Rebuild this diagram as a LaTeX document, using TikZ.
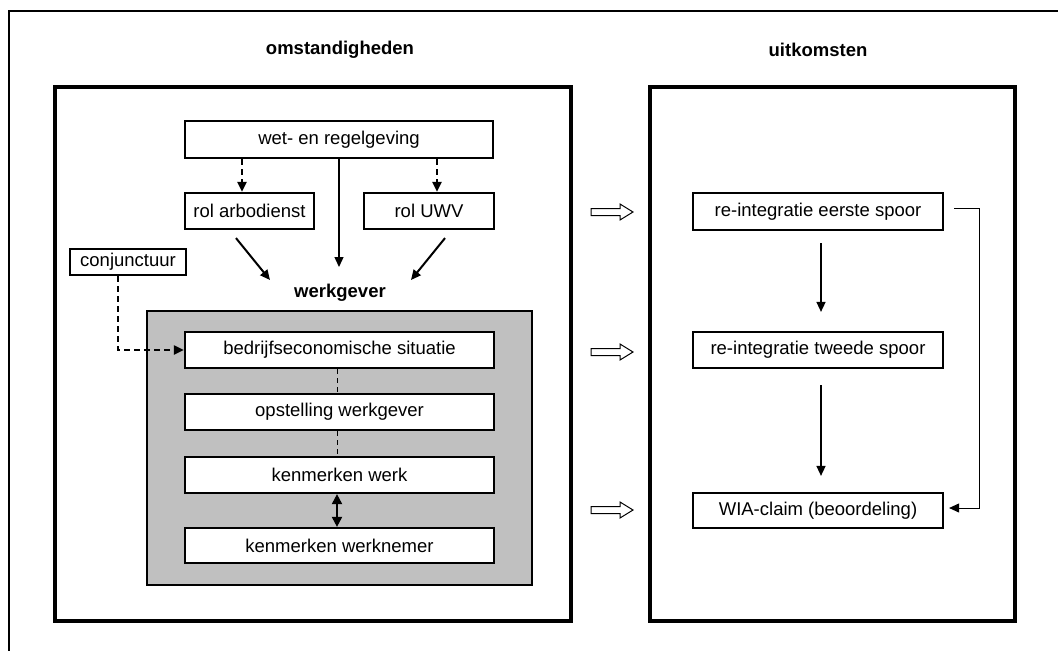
\documentclass[tikz,border=0pt]{standalone}
\usepackage{fontspec}
\setmainfont{Liberation Sans}
\usetikzlibrary{arrows.meta,calc}
\definecolor{gfill}{RGB}{192,192,192}
\begin{document}
\begin{tikzpicture}[x=1pt,y=-1pt,
  box/.style={draw, line width=2.2pt, fill=white, inner sep=0pt, font=\fontsize{18.5}{22}\selectfont},
  hdr/.style={inner sep=0pt, font=\fontsize{18.5}{22}\selectfont\bfseries},
  bigbox/.style={draw, line width=3.5pt},
  arr/.style={-{Triangle[length=10pt,width=9pt]}},
  dash1/.style={line width=2pt, dash pattern=on 6pt off 4pt},
  hollow/.style={draw, line width=1pt, fill=white},
]
\useasboundingbox (0,0) rectangle (1058,651);
% outer frame (top and left only)
\draw[line width=2pt] (1058,11) -- (9,11) -- (9,651);
% big boxes
\draw[bigbox] (55,87) rectangle (571,621);
\draw[bigbox] (650,87) rectangle (1015,621);
% gray box
\draw[line width=2pt, fill=gfill] (147,311) rectangle (532,585);
% headers
\node[hdr] (h1) at (340,50) {omstandigheden};
\node[hdr] (h2) at (818,50) {uitkomsten};
\node[hdr] (wg) at (340,293) {werkgever};
% left nodes
\node[box, minimum width=308pt, minimum height=37pt] (wet) at (339,139.5) {wet- en regelgeving};
\node[box, minimum width=129pt, minimum height=36pt] (arbo) at (249.5,211) {rol arbodienst};
\node[box, minimum width=130pt, minimum height=36pt] (uwv) at (429,211) {rol UWV};
\node[box, minimum width=116pt, minimum height=26pt] (conj) at (128,262) {conjunctuur};
\node[box, minimum width=309pt, minimum height=36pt] (bed) at (339.5,350) {bedrijfseconomische situatie};
\node[box, minimum width=309pt, minimum height=36pt] (ops) at (339.5,412) {opstelling werkgever};
\node[box, minimum width=309pt, minimum height=36pt] (kw) at (339.5,475) {kenmerken werk};
\node[box, minimum width=309pt, minimum height=35pt] (kwn) at (339.5,545.5) {kenmerken werknemer};
% right nodes
\node[box, minimum width=250pt, minimum height=37pt] (ee) at (818,211.5) {re-integratie eerste spoor};
\node[box, minimum width=250pt, minimum height=36pt] (tw) at (818,350) {re-integratie tweede spoor};
\node[box, minimum width=250pt, minimum height=35pt] (wia) at (818,510.5) {WIA-claim (beoordeling)};
% connectors left
\coordinate (a1) at ($(arbo.north)+(-7.5,0)$);
\coordinate (u1) at ($(uwv.north)+(8,0)$);
\draw[dash1,arr] (a1 |- wet.south) -- (a1);
\draw[dash1,arr] (u1 |- wet.south) -- (u1);
\coordinate (wgtop) at ($(wg.center)+(0,-26)$);
\draw[line width=1.3pt,arr] (wet.south) -- (wet.south |- wgtop);
\draw[line width=2pt,arr] ($(arbo.south)+(-13.5,8)$) -- ($(wg.center)+(-70,-13)$);
\draw[line width=2pt,arr] ($(uwv.south)+(16,8)$) -- ($(wg.center)+(71,-13)$);
\draw[dash1,arr] ($(conj.south)+(-10,0)$) |- (bed.west);
\draw[line width=1pt, dash pattern=on 5pt off 4pt] ($(bed.south)+(-2.5,0)$) -- ($(ops.north)+(-2.5,0)$);
\draw[line width=1pt, dash pattern=on 5pt off 4pt] ($(ops.south)+(-2.5,0)$) -- ($(kw.north)+(-2.5,0)$);
\draw[line width=2pt, {Triangle[length=10pt,width=10pt]}-{Triangle[length=10pt,width=10pt]}] ($(kw.south)+(-2.5,0)$) -- ($(kwn.north)+(-2.5,0)$);
% connectors right
\draw[line width=1.5pt,arr] ($(ee.south)+(3,12)$) -- ($(tw.north)+(3,-19)$);
\draw[line width=1.5pt,arr] ($(tw.south)+(3,16)$) -- ($(wia.north)+(3,-16)$);
\draw[line width=1pt,arr] ($(ee.east)+(10,-3.5)$) -- ++(25,0) |- ($(wia.east)+(5,-2.5)$);
% hollow arrows
\foreach \yy in {212,352,510} {
  \draw[hollow] (591,\yy-3.5) -- (620,\yy-3.5) -- (620,\yy-8) -- (633,\yy) -- (620,\yy+8) -- (620,\yy+3.5) -- (591,\yy+3.5) -- cycle;
}
\end{tikzpicture}
\end{document}
